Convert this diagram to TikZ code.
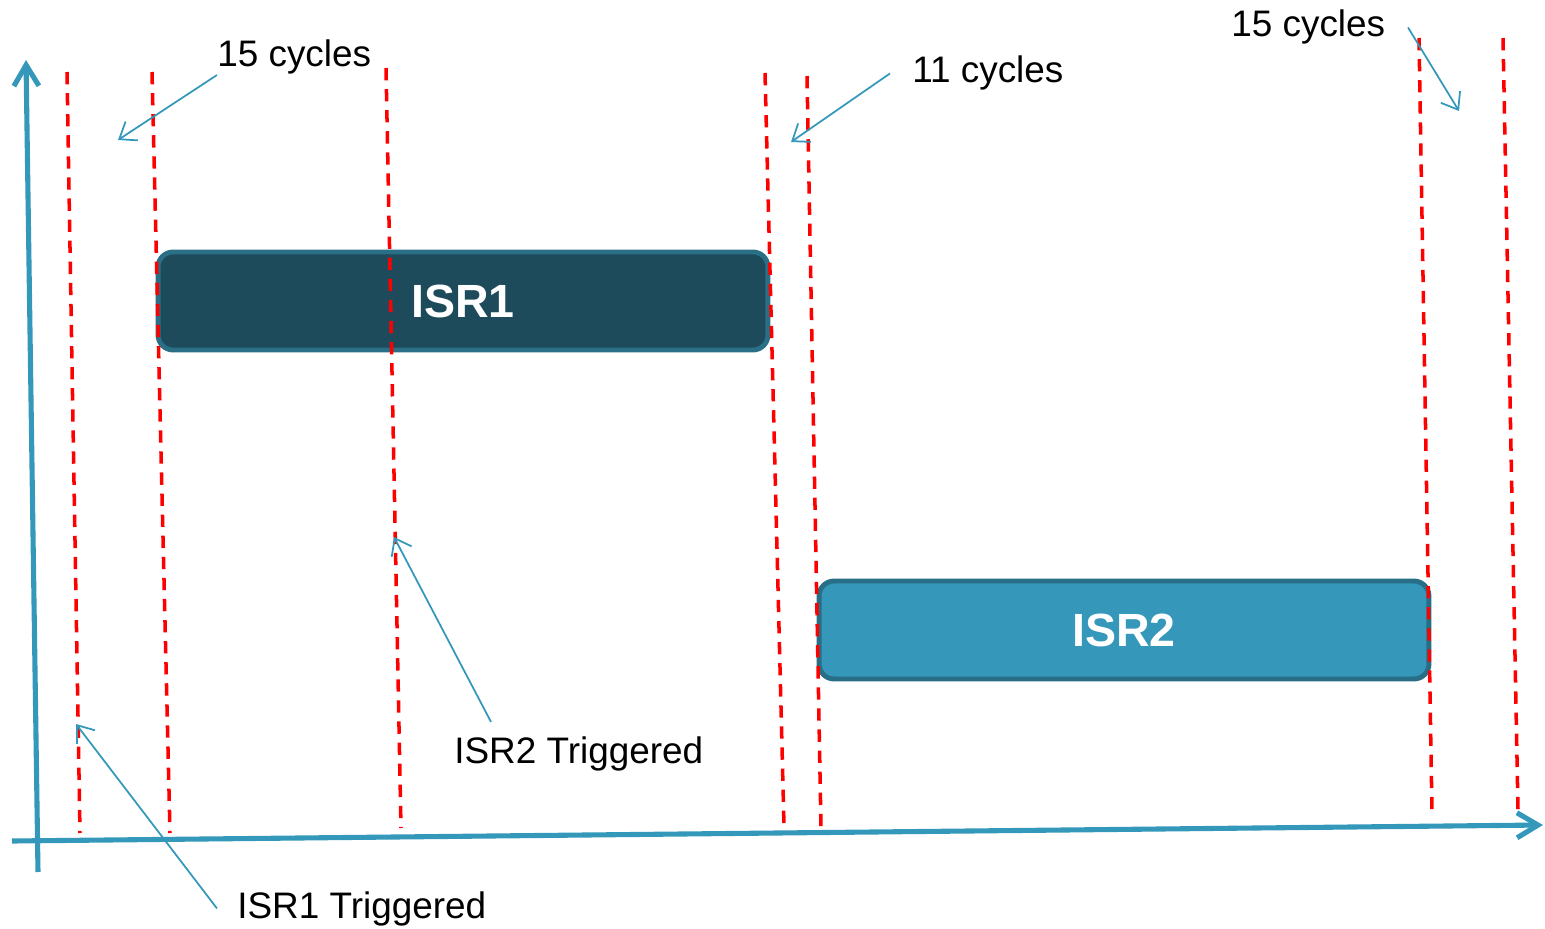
\documentclass[tikz,border=0pt]{standalone}
\usepackage{fontspec}
\setmainfont{Liberation Sans}
\usetikzlibrary{arrows.meta}

\definecolor{axisblue}{HTML}{3498BA}
\definecolor{isrdark}{HTML}{1D4B5C}
\definecolor{isrdarkrim}{HTML}{2A6F86}
\definecolor{isrlight}{HTML}{3597B9}
\definecolor{isrlightrim}{HTML}{276E86}

\tikzset{
  axis/.style={axisblue, line width=2.9pt, -{Straight Barb[length=0.42cm,width=0.5cm]}},
  marker/.style={red, line width=2pt, dash pattern=on 7pt off 5pt},
  callout/.style={axisblue, line width=1pt, -{Straight Barb[length=0.3cm,width=0.45cm]}},
  isrbox/.style={rounded corners=0.3cm, line width=2.8pt, minimum width=12.2cm,
    minimum height=1.96cm, text=white, font=\fontsize{26.5}{30}\selectfont\bfseries},
  lbl/.style={inner sep=0pt, anchor=base west, font=\fontsize{21}{25}\selectfont},
}

\begin{document}
\begin{tikzpicture}[x=0.02cm, y=-0.02cm]
\useasboundingbox (0,0) rectangle (1545,929);

% the two routines
\node[isrbox, fill=isrdark, draw=isrdarkrim] (isr1) at (463,301) {ISR1};
\node[isrbox, fill=isrlight, draw=isrlightrim] (isr2) at (1124,630) {ISR2};

% axes
\coordinate (yb) at (38,872);
\coordinate (yt) at (26,60);
\coordinate (xl) at (12,841);
\coordinate (xr) at (1543,825);
\draw[axis] (yb) -- (yt); %vertical axis
\draw[axis] (xl) -- (xr); %horizontal axis

% time markers
\draw[marker] (67,72) -- (80,833);
\draw[marker] (152,72) -- (170,833);
\draw[marker] (386,68) -- (401,828);
\draw[marker] (765,73) -- (784,826);
\draw[marker] (807,76) -- (821,828);
\draw[marker] (1419,38) -- (1432,813);
\draw[marker] (1503,38) -- (1518,810);

% labels
\node[lbl] (cyc15a) at (217,67) {15 cycles};
\node[lbl] (cyc11) at (912,83) {11 cycles};
\node[lbl] (cyc15b) at (1231,37) {15 cycles};
\node[lbl] (trig2) at (454,763) {ISR2 Triggered};
\node[lbl] (trig1) at (237,918) {ISR1 Triggered};

\coordinate (t15a) at (118,140);
\coordinate (t11) at (791,142);
\coordinate (t15b) at (1459,111);
\coordinate (t2) at (394,537);
\coordinate (t1) at (76,724);

\draw[callout] (cyc15a.south west) -- (t15a);
\draw[callout] ([xshift=-0.44cm]cyc11.west) -- (t11);
\draw[callout] ([xshift=0.45cm]cyc15b.east) -- (t15b);
\draw[callout] ([xshift=0.74cm,yshift=0.28cm]trig2.north west) -- (t2);
\draw[callout] ([xshift=-0.4cm]trig1.west) -- (t1);

\end{tikzpicture}
\end{document}
